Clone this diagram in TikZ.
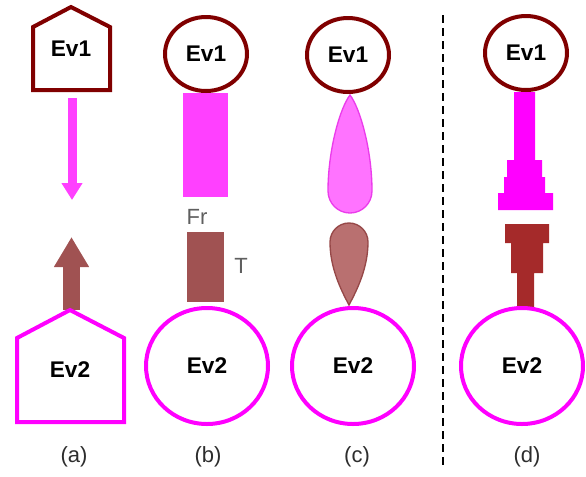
\documentclass[tikz,border=0pt]{standalone}
\usepackage{fontspec}
\setmainfont{Liberation Sans}
\usetikzlibrary{shapes.geometric,arrows.meta}

\definecolor{evred}{RGB}{128,0,0}
\definecolor{evpink}{RGB}{255,0,255}
\definecolor{frpink}{RGB}{255,64,255}
\definecolor{tbrown}{RGB}{160,82,82}
\definecolor{stepbrown}{RGB}{165,42,42}
\definecolor{droppink}{RGB}{255,115,255}
\definecolor{droppinkline}{RGB}{235,60,235}
\definecolor{dropbrown}{RGB}{185,112,112}
\definecolor{dropbrownline}{RGB}{150,72,72}
\definecolor{capgray}{RGB}{45,45,45}
\definecolor{taggray}{RGB}{95,95,95}

\tikzset{
    evtext/.style={font=\fontsize{17}{19}\selectfont\bfseries},
    evone/.style={ellipse, draw=evred, line width=3pt, fill=white,
        minimum width=61.5pt, minimum height=55.5pt, inner sep=0pt, evtext},
    evtwo/.style={ellipse, draw=evpink, line width=3pt, fill=white,
        minimum width=91.5pt, minimum height=87pt, inner sep=0pt, evtext},
    panellabel/.style={font=\fontsize{16.5}{18}\selectfont, text=capgray},
    tag/.style={font=\fontsize{16.5}{18}\selectfont, text=taggray},
}

\begin{document}
\begin{tikzpicture}[x=0.75pt, y=-0.75pt]
    \useasboundingbox (0,0) rectangle (586,476);

    % (a) two arrows
    \draw[frpink, line width=6.75pt, -{Triangle[width=15pt, length=12.75pt]}] (72,98) -- (72,200);
    \draw[tbrown, line width=12.75pt, -{Triangle[width=24.75pt, length=22.5pt]}] (71.5,310) -- (71.5,237);

    % (a) the two houses
    \draw[evred, line width=3pt, fill=white] (71,7) -- (110,27) -- (110,90) -- (33,90) -- (33,27) -- cycle;
    \draw[evpink, line width=3pt, fill=white] (70,310) -- (124,338) -- (124,422) -- (17,422) -- (17,338) -- cycle;
    \node[evtext] (houseA1) at (71,49) {Ev1};
    \node[evtext] (houseA2) at (70,370) {Ev2};

    % (b) two bars
    \fill[frpink] (183,93) rectangle (228,197);
    \fill[tbrown] (187,232) rectangle (224,302);
    \node[tag] (fr) at (197,217) {Fr};
    \node[tag] (t) at (241,266) {T};

    % (c) two drops
    \coordinate (tipC1) at (350,95);
    \coordinate (tipC2) at (349,305);
    \filldraw[draw=droppinkline, fill=droppink, line width=1pt]
        (tipC1) .. controls (340,108) and (328,150) .. (328,191)
        arc[start angle=180, end angle=0, radius=22]
        .. controls (372,150) and (360,108) .. (tipC1) -- cycle;
    \filldraw[draw=dropbrownline, fill=dropbrown, line width=1pt]
        (tipC2) .. controls (341,290) and (330,268) .. (330,242)
        arc[start angle=180, end angle=360, radius=19]
        .. controls (368,268) and (357,290) .. (tipC2) -- cycle;

    % (d) stepped pieces
    \fill[evpink] (514,92) -- (514,160) -- (507,160) -- (507,177) -- (504,177) -- (504,193)
        -- (498,193) -- (498,210) -- (553,210) -- (553,193) -- (545,193) -- (545,177)
        -- (542,177) -- (542,160) -- (535,160) -- (535,92) -- cycle;
    \fill[stepbrown] (505,224) -- (549,224) -- (549,243) -- (543,243) -- (543,273) -- (534,273)
        -- (534,308) -- (517,308) -- (517,273) -- (511,273) -- (511,243) -- (505,243) -- cycle;

    % events
    \node[evone] (ev1b) at (206,54) {Ev1};
    \node[evone] (ev1c) at (348,55) {Ev1};
    \node[evone] (ev1d) at (526,53) {Ev1};
    \node[evtwo] (ev2b) at (207,366) {Ev2};
    \node[evtwo] (ev2c) at (353,366) {Ev2};
    \node[evtwo] (ev2d) at (522,366) {Ev2};

    % separator
    \draw[line width=1.5pt, dash pattern=on 6pt off 3.75pt] (443,15) -- (443,470);

    % panel labels
    \node[panellabel] (capA) at (74,457) {(a)};
    \node[panellabel] (capB) at (208,457) {(b)};
    \node[panellabel] (capC) at (357,457) {(c)};
    \node[panellabel] (capD) at (527,457) {(d)};
\end{tikzpicture}
\end{document}
